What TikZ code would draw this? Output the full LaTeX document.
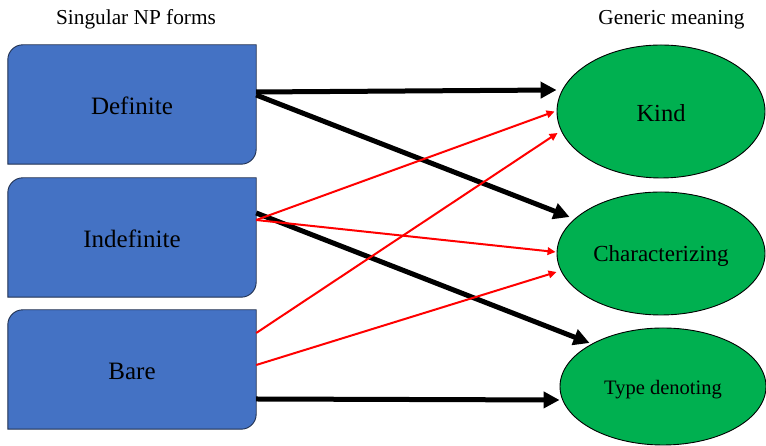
\documentclass[tikz,border=0pt]{standalone}
\usepackage{fontspec}
\setmainfont{Liberation Serif}
\usetikzlibrary{arrows.meta,calc,shapes.geometric,backgrounds}
\definecolor{boxblue}{HTML}{4472C4}
\definecolor{ellgreen}{HTML}{00B050}
\definecolor{boxline}{HTML}{1F2F4F}
\newcommand\lowered[1]{\raisebox{0pt}[\dimexpr\height+3pt\relax][\dimexpr\depth-3pt\relax]{#1}}
\tikzset{
  formbox/.style={draw=none, minimum width=248pt, minimum height=119pt, inner sep=0pt, font=\fontsize{25}{30}\selectfont},
  boxfill/.style={fill=boxblue, draw=boxline, line width=0.9pt},
  meaning/.style={ellipse, draw=black, line width=0.9pt, fill=ellgreen, inner sep=0pt},
  title/.style={anchor=base, font=\fontsize{21.3}{25}\selectfont},
  blk/.style={draw=black, line width=5pt, -{Triangle[length=16pt,width=16pt]}},
  redarr/.style={draw=red, line width=2pt, -{Triangle[length=8pt,width=7.5pt]}}
}
\newcommand\snipshape[1]{%
  \filldraw[boxfill] ($(#1.north west)+(0,-15pt)$) arc[start angle=180,end angle=90,radius=15pt]
    -- (#1.north east) -- ($(#1.south east)+(0,15pt)$) arc[start angle=0,end angle=-90,radius=15pt]
    -- (#1.south west) -- cycle;}
\begin{document}
\begin{tikzpicture}[x=1pt,y=1pt]
\useasboundingbox (0,0) rectangle (766,446);
\node[title] (t1) at (136,421) {Singular NP forms};
\node[title] (t2) at (671.5,421) {Generic meaning};

\node[formbox] (def) at (132,341.5) {\lowered{Definite}};
\node[formbox] (indef) at (132,208.5) {\lowered{Indefinite}};
\node[formbox] (bare) at (132,76.5) {\lowered{Bare}};
\begin{pgfonlayer}{background}
  \snipshape{def}
  \snipshape{indef}
  \snipshape{bare}
\end{pgfonlayer}

\node[meaning, minimum width=208pt, minimum height=133pt, font=\fontsize{24.5}{29}\selectfont] (kind) at (661,334.5) {\lowered{Kind}};
\node[meaning, minimum width=208pt, minimum height=123pt, font=\fontsize{23}{28}\selectfont] (char) at (661,192.5) {\lowered{Characterizing}};
\node[meaning, minimum width=206pt, minimum height=117pt, font=\fontsize{20.5}{25}\selectfont] (type) at (663,59.5) {\lowered{Type denoting}};

\draw[blk] ([yshift=12.5pt]def.east) -- ([yshift=21.5pt]kind.west);
\draw[blk] ([yshift=9.5pt]def.east) -- ([xshift=13pt,yshift=36.5pt]char.west);
\draw[blk] ([yshift=24.5pt]indef.east) -- ([xshift=30pt,yshift=43.5pt]type.west);
\draw[blk] ([yshift=-29.5pt]bare.east) -- ([yshift=-13.5pt]type.west);

\draw[redarr] ([yshift=17.5pt]indef.east) -- ([xshift=-2pt]kind.west);
\draw[redarr] ([yshift=17.5pt]indef.east) -- ([xshift=-1pt,yshift=1.5pt]char.west);
\draw[redarr] ([yshift=36.5pt]bare.east) -- ([xshift=1pt,yshift=-21.5pt]kind.west);
\draw[redarr] ([yshift=4.5pt]bare.east) -- ([yshift=-18.5pt]char.west);
\end{tikzpicture}
\end{document}
